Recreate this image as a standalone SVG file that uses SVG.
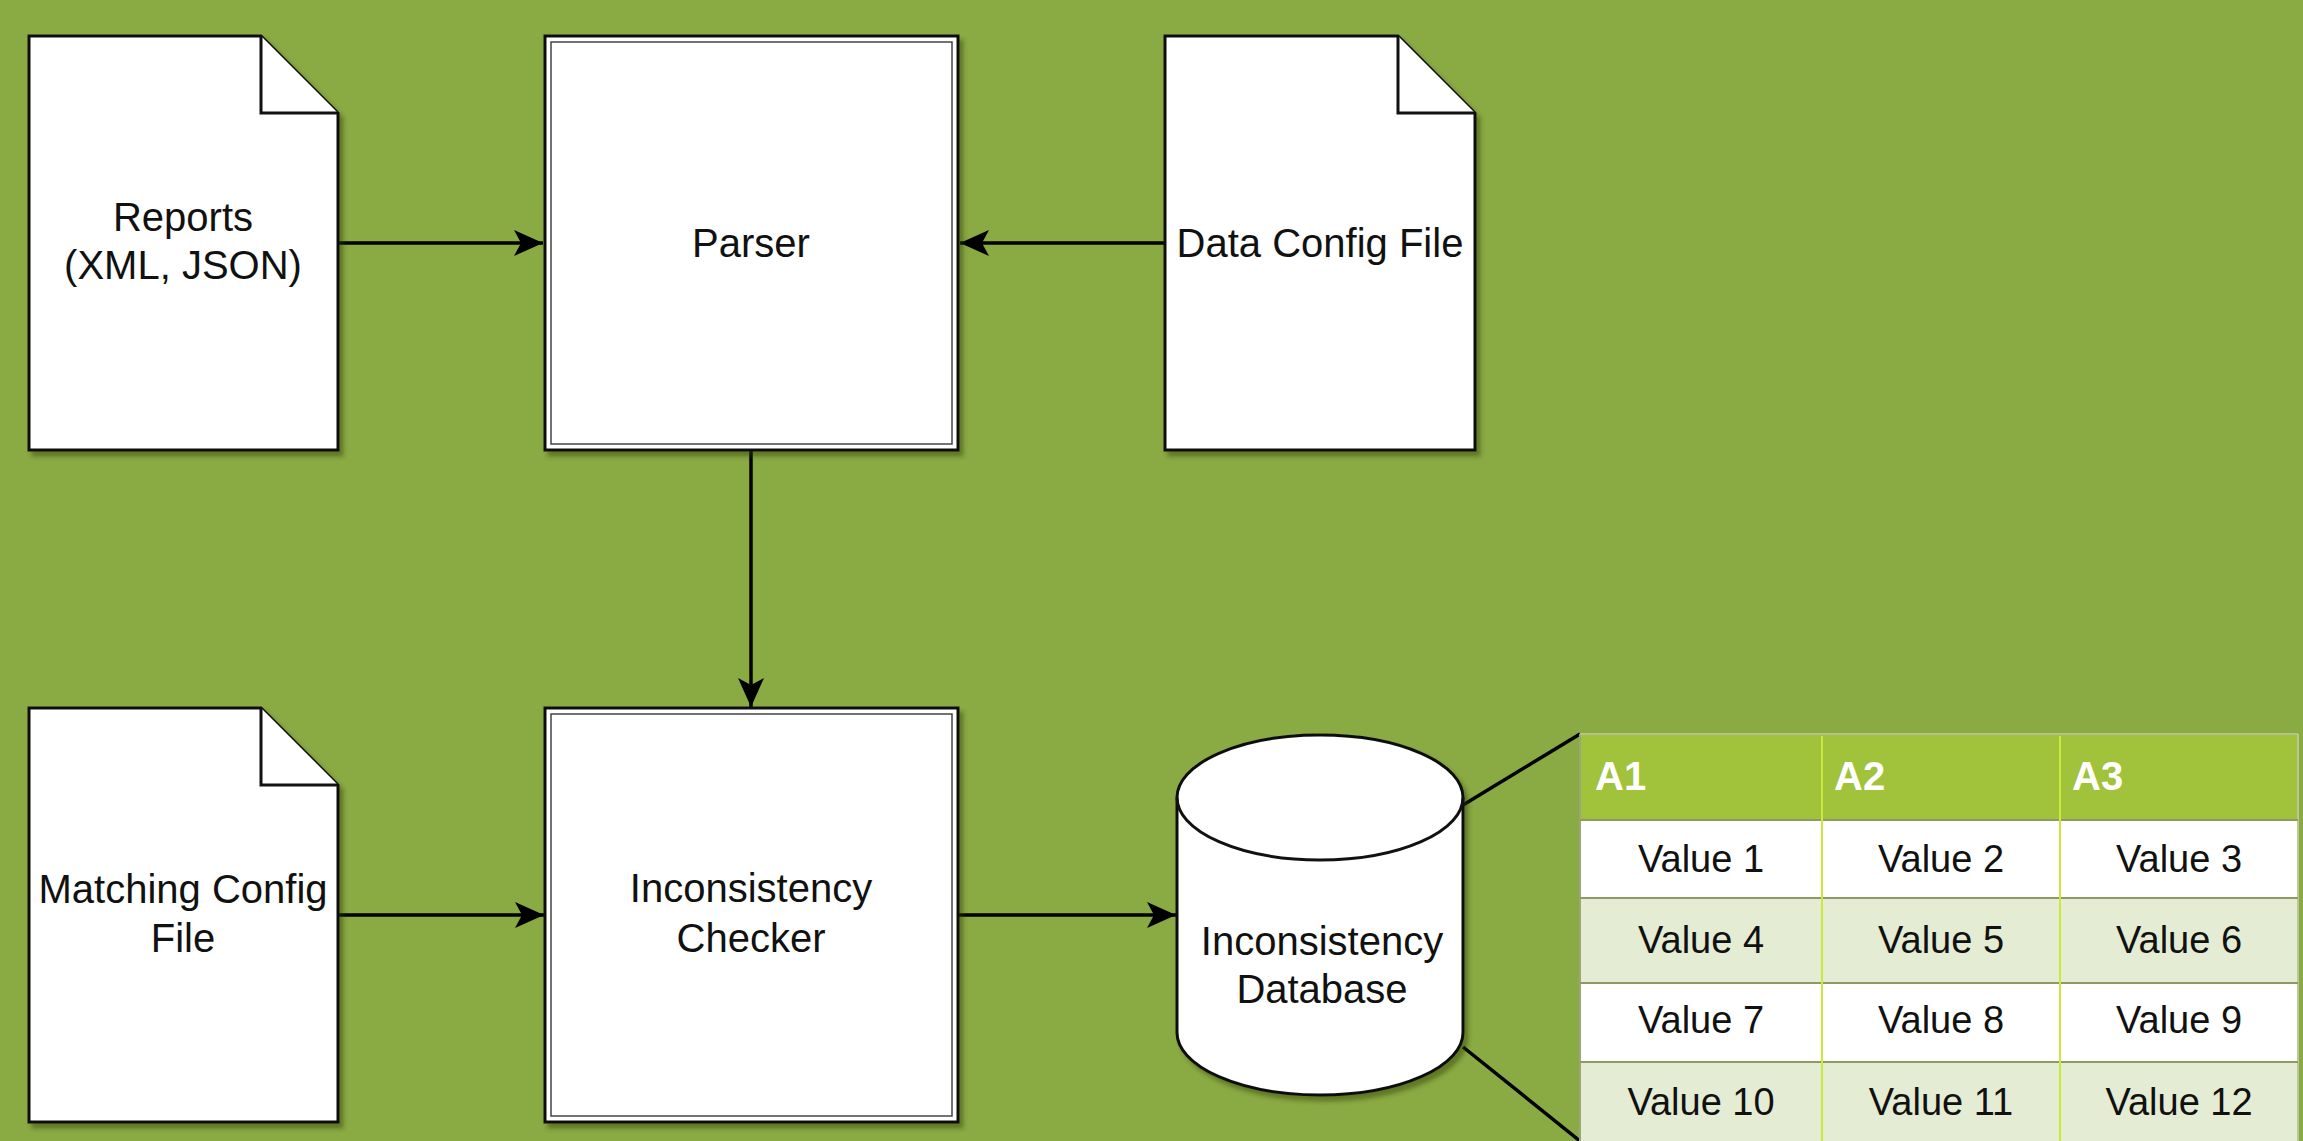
<svg xmlns="http://www.w3.org/2000/svg" width="2303" height="1141" viewBox="0 0 2303 1141">
<defs>
<style>
.lbl{font-family:"Liberation Sans",Arial,Helvetica,sans-serif;font-size:40px;fill:#111;text-anchor:middle}
.shape{fill:#fff;stroke:#111;stroke-width:3}
.inner{fill:none;stroke:#444;stroke-width:1.5}
.fold{fill:#fff;stroke:#111;stroke-width:3;stroke-linejoin:miter}
.edge{fill:none;stroke:#000;stroke-width:3.5}
.hdr{font-family:"Liberation Sans",Arial,Helvetica,sans-serif;font-size:40px;font-weight:bold;fill:#fff}
.val{font-family:"Liberation Sans",Arial,Helvetica,sans-serif;font-size:38px;fill:#111;text-anchor:middle}
.vline{stroke:#c8ea3c;stroke-width:2}
.hline{stroke:#8d9a63;stroke-width:2}
</style>
<filter id="sh" x="-10%" y="-10%" width="130%" height="130%">
<feDropShadow dx="4" dy="5" stdDeviation="2" flood-color="#2c3a0e" flood-opacity="0.45"/>
</filter>
<marker id="arr" markerUnits="userSpaceOnUse" markerWidth="30" markerHeight="28" refX="29" refY="13" orient="auto">
<path d="M0,0 L29,13 L0,26 L7,13 Z" fill="#000"/>
</marker>
</defs>
<rect x="0" y="0" width="2303" height="1141" fill="#8aaa43"/>

<g id="connectors">
<path class="edge" d="M338,243 L543,243" marker-end="url(#arr)"/>
<path class="edge" d="M1165,243 L960,243" marker-end="url(#arr)"/>
<path class="edge" d="M751,450 L751,707" marker-end="url(#arr)"/>
<path class="edge" d="M338,915 L544,915" marker-end="url(#arr)"/>
<path class="edge" d="M958,915 L1176,915" marker-end="url(#arr)"/>
<path class="edge" d="M1463,805 L1580,734"/>
<path class="edge" d="M1463,1047 L1580,1141"/>
</g>

<g id="reports">
<path class="shape" filter="url(#sh)" d="M29,36 L261,36 L338,113 L338,450 L29,450 Z"/>
<path class="fold" d="M261,36 L261,113 L338,113"/>
<text class="lbl" x="183" y="231">Reports</text>
<text class="lbl" x="183" y="279">(XML, JSON)</text>
</g>

<g id="parser">
<rect class="shape" filter="url(#sh)" x="545" y="36" width="413" height="414"/>
<rect class="inner" x="551" y="42" width="401" height="402"/>
<text class="lbl" x="751" y="257">Parser</text>
</g>

<g id="data-config">
<path class="shape" filter="url(#sh)" d="M1165,36 L1398,36 L1475,113 L1475,450 L1165,450 Z"/>
<path class="fold" d="M1398,36 L1398,113 L1475,113"/>
<text class="lbl" x="1320" y="257">Data Config File</text>
</g>

<g id="matching-config">
<path class="shape" filter="url(#sh)" d="M29,708 L261,708 L338,785 L338,1122 L29,1122 Z"/>
<path class="fold" d="M261,708 L261,785 L338,785"/>
<text class="lbl" x="183" y="903">Matching Config</text>
<text class="lbl" x="183" y="952">File</text>
</g>

<g id="checker">
<rect class="shape" filter="url(#sh)" x="545" y="708" width="413" height="414"/>
<rect class="inner" x="551" y="714" width="401" height="402"/>
<text class="lbl" x="751" y="902">Inconsistency</text>
<text class="lbl" x="751" y="952">Checker</text>
</g>

<g id="database">
<path class="shape" filter="url(#sh)" d="M1177,797.5 A143,62.5 0 0 1 1463,797.5 L1463,1032.5 A143,62.5 0 0 1 1177,1032.5 Z"/>
<path class="shape" style="fill:none" d="M1177,797.5 A143,62.5 0 0 0 1463,797.5"/>
<text class="lbl" x="1322" y="955">Inconsistency</text>
<text class="lbl" x="1322" y="1003">Database</text>
</g>

<g id="table">
<rect x="1580" y="734" width="718" height="86" fill="#a1c23b"/>
<rect x="1580" y="820" width="718" height="78" fill="#ffffff"/>
<rect x="1580" y="898" width="718" height="85" fill="#e4ecd3"/>
<rect x="1580" y="983" width="718" height="79" fill="#ffffff"/>
<rect x="1580" y="1062" width="718" height="79" fill="#e4ecd3"/>
<line x1="1580" y1="734" x2="2298" y2="734" stroke="#b4c28e" stroke-width="2"/>
<line x1="1580" y1="734" x2="1580" y2="1141" stroke="#9aa77a" stroke-width="2"/>
<line x1="2298" y1="734" x2="2298" y2="1141" stroke="#b9c79a" stroke-width="2"/>
<line class="hline" x1="1580" y1="820" x2="2298" y2="820"/>
<line class="hline" x1="1580" y1="898" x2="2298" y2="898"/>
<line class="hline" x1="1580" y1="983" x2="2298" y2="983"/>
<line class="hline" x1="1580" y1="1062" x2="2298" y2="1062"/>
<line class="vline" x1="1822" y1="736" x2="1822" y2="1141"/>
<line class="vline" x1="2060" y1="736" x2="2060" y2="1141"/>
<text class="hdr" x="1595" y="790">A1</text>
<text class="hdr" x="1834" y="790">A2</text>
<text class="hdr" x="2072" y="790">A3</text>
<text class="val" x="1701" y="872">Value 1</text>
<text class="val" x="1941" y="872">Value 2</text>
<text class="val" x="2179" y="872">Value 3</text>
<text class="val" x="1701" y="953">Value 4</text>
<text class="val" x="1941" y="953">Value 5</text>
<text class="val" x="2179" y="953">Value 6</text>
<text class="val" x="1701" y="1033">Value 7</text>
<text class="val" x="1941" y="1033">Value 8</text>
<text class="val" x="2179" y="1033">Value 9</text>
<text class="val" x="1701" y="1115">Value 10</text>
<text class="val" x="1941" y="1115">Value 11</text>
<text class="val" x="2179" y="1115">Value 12</text>
</g>
</svg>
